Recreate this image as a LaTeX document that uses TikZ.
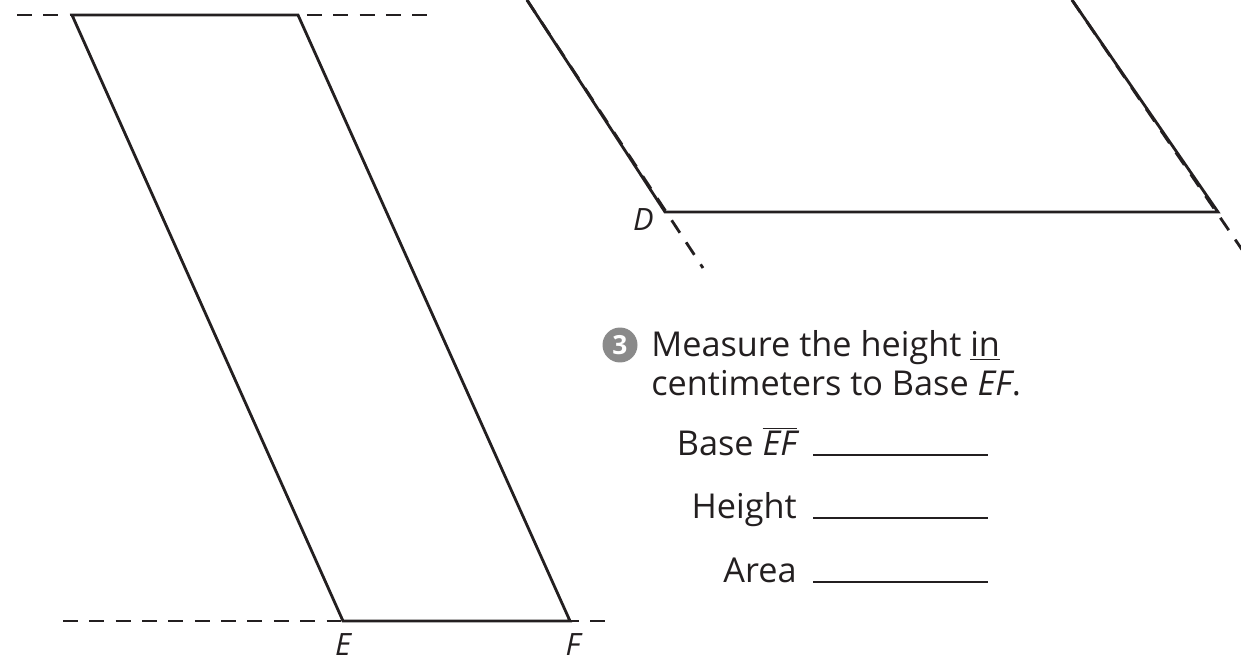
\documentclass[tikz,border=0pt]{standalone}
\usepackage{fontspec}
\setmainfont{Open Sans}
\usetikzlibrary{positioning}
\definecolor{cInk}{HTML}{231F20}
\definecolor{cBadge}{HTML}{8A8A8A}
\tikzset{
  edge/.style={draw=cInk, line width=1.6pt, line join=miter},
  guide/.style={draw=cInk, line width=1.6pt, dash pattern=on 8.5pt off 6.5pt},
  vlabel/.style={font=\fontsize{17.5}{19}\selectfont\itshape, text=cInk, inner sep=0pt},
  prompt/.style={font=\fontsize{19.5}{22}\selectfont, text=cInk, inner sep=0pt},
  blank/.style={draw=cInk, line width=1.2pt},
  badge/.style={circle, fill=cBadge, minimum size=0.7cm, inner sep=0pt,
    font=\fontsize{15}{15}\selectfont\bfseries, text=white},
}

\begin{document}
\begin{tikzpicture}[x=0.02cm, y=-0.02cm]
  \useasboundingbox (0,0) rectangle (1241,662);
  \clip (0,0) rectangle (1241,662);

  % Left parallelogram on two dashed parallels
  \coordinate (G) at (72,15);
  \coordinate (H) at (298,15);
  \coordinate (E) at (343,621);
  \coordinate (F) at (570,621);
  \coordinate (top1) at (17,15);
  \coordinate (top2) at (433,15);
  \coordinate (bot1) at (63,621);
  \coordinate (bot2) at (613,621);
  \draw[guide] (top1) -- (top2);
  \draw[guide] (bot1) -- (bot2);
  \draw[edge] (G) -- (H) -- (F) -- (E) -- cycle;
  \node[vlabel, anchor=base] (lE) at (343,655) {E};
  \node[vlabel, anchor=base] (lF) at (573,655) {F};

  % Upper parallelogram, cut by the page
  \coordinate (D) at (665,212);
  \coordinate (C) at (1218,212);
  \coordinate (Dup) at (527,0);
  \coordinate (Cup) at (1072,0);
  \coordinate (Ddn) at (703,268);
  \coordinate (Cdn) at (1245,254);
  \draw[edge] (Dup) -- (D) -- (C) -- (Cup);
  \draw[guide] (Dup) -- (Ddn);
  \draw[guide] (Cup) -- (Cdn);
  \node[vlabel, anchor=east] (lD) at (654,220) {D};

  % Exercise 3
  \node[badge] (num) at (620,345) {3};
  \node[prompt, anchor=base west] (q1) at (651,357) {Measure the height \underline{in}};
  \node[prompt, anchor=base west] (q2) at (651,395)
    {centimeters to Base \textit{EF}.};
  \foreach \y/\txt [count=\i] in {455/{Base $\overline{\mbox{\itshape EF}}$}, 518/Height, 582/Area} {
    \node[prompt, anchor=base east] (r\i) at (797,\y) {\txt};
    \draw[blank] (813,\y) -- (988,\y);
  }
\end{tikzpicture}
\end{document}
